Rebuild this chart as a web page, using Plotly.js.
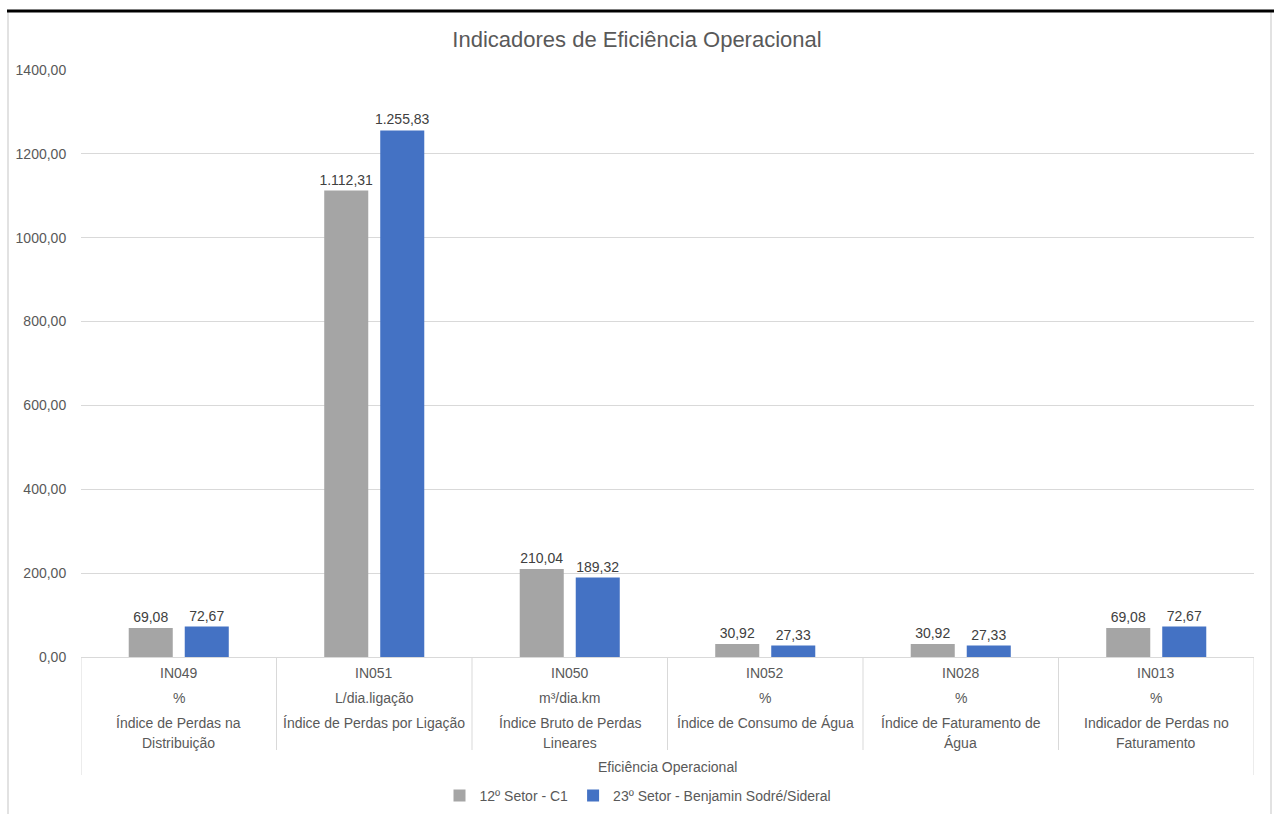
<!DOCTYPE html>
<html>
<head>
<meta charset="utf-8">
<script src="https://cdn.plot.ly/plotly-3.0.1.min.js"></script>
<style>html,body{margin:0;padding:0;background:#fff;}#chart{width:1274px;height:814px;}</style>
</head>
<body>
<div id="chart"></div>
<script>
const codes = ["IN049", "IN051", "IN050", "IN052", "IN028", "IN013"];
const units = ["%", "L/dia.ligação", "m³/dia.km", "%", "%", "%"];
const descriptions = [
  "Índice de Perdas na<br>Distribuição",
  "Índice de Perdas por Ligação",
  "Índice Bruto de Perdas<br>Lineares",
  "Índice de Consumo de Água",
  "Índice de Faturamento de<br>Água",
  "Indicador de Perdas no<br>Faturamento"
];
const groupLabel = "Eficiência Operacional";
const seriesNames = ["12º Setor - C1", "23º Setor - Benjamin Sodré/Sideral"];
const setor12 = [69.08, 1112.31, 210.04, 30.92, 30.92, 69.08];
const setor23 = [72.67, 1255.83, 189.32, 27.33, 27.33, 72.67];

const PLOT_L = 81, PLOT_R = 1254, PLOT_T = 70, PLOT_B = 657, W = 1274, H = 814;
const ph = PLOT_B - PLOT_T, pw = PLOT_R - PLOT_L;
const py = p => (PLOT_B - p) / ph;   // pixel y -> paper y
const px = p => (p - PLOT_L) / pw;   // pixel x -> paper x

const xs = codes.map((c, i) => i);
const FAM = "Liberation Sans, Arial, sans-serif";
const font = {family: FAM, color: "#595959", size: 14};

const traces = [
  {type: "bar", x: xs, y: setor12, name: seriesNames[0], marker: {color: "#a5a5a5"},
   texttemplate: "%{y:,.2f}", textposition: "outside", cliponaxis: false, constraintext: "none",
   textfont: {family: FAM, size: 14, color: "#404040"}, hoverinfo: "skip"},
  {type: "bar", x: xs, y: setor23, name: seriesNames[1], marker: {color: "#4472c4"},
   texttemplate: "%{y:,.2f}", textposition: "outside", cliponaxis: false, constraintext: "none",
   textfont: {family: FAM, size: 14, color: "#404040"}, hoverinfo: "skip"}
];

const annotations = [];
xs.forEach(i => {
  annotations.push({x: i, xref: "x", y: py(673), yref: "paper", text: codes[i], showarrow: false, yanchor: "middle", font: font});
  annotations.push({x: i, xref: "x", y: py(698), yref: "paper", text: units[i], showarrow: false, yanchor: "middle", font: font});
  descriptions[i].split("<br>").forEach((t, k) => {
    annotations.push({x: i, xref: "x", y: py(723 + 20 * k), yref: "paper", text: t, showarrow: false, yanchor: "middle", font: font});
  });
});
annotations.push({x: (xs.length - 1) / 2, xref: "x", y: py(767), yref: "paper", text: groupLabel, showarrow: false, yanchor: "middle", font: font});

const shapes = [];
for (let k = 0; k <= xs.length; k++) {
  const outer = (k === 0 || k === xs.length);
  shapes.push({type: "line", xref: "x", yref: "paper", x0: k - 0.5, x1: k - 0.5, y0: 0, y1: py(outer ? 775 : 750),
    line: {color: "#d9d9d9", width: 1}});
}
// chart frame
shapes.push({type: "line", xref: "paper", yref: "paper", x0: px(8), x1: px(8), y0: py(11), y1: py(814), line: {color: "#d9d9d9", width: 1.5}});
shapes.push({type: "line", xref: "paper", yref: "paper", x0: px(1271), x1: px(1271), y0: py(11), y1: py(814), line: {color: "#d9d9d9", width: 1.5}});
shapes.push({type: "line", xref: "paper", yref: "paper", x0: px(7), x1: px(1274), y0: py(11), y1: py(11), line: {color: "#000000", width: 3}});

const layout = {
  width: W, height: H,
  margin: {l: PLOT_L, r: W - PLOT_R, t: PLOT_T, b: H - PLOT_B, pad: 0, autoexpand: false},
  paper_bgcolor: "#ffffff", plot_bgcolor: "#ffffff",
  separators: ",.",
  font: font,
  title: {text: "Indicadores de Eficiência Operacional", font: {family: FAM, size: 22, color: "#595959"},
          x: 0.5, xref: "container", y: 1 - 39 / H, yref: "container", yanchor: "middle"},
  barmode: "group", bargap: 0.427, bargroupgap: 0.214,
  xaxis: {range: [-0.5, xs.length - 0.5], showticklabels: false, ticks: "", showgrid: false, zeroline: false,
          showline: false, fixedrange: true, automargin: false},
  yaxis: {range: [0, 1400], dtick: 200, tickformat: ".2f", showgrid: true, gridcolor: "#d9d9d9", gridwidth: 1,
          zeroline: true, zerolinecolor: "#d9d9d9", zerolinewidth: 1, showline: false, automargin: false,
          ticks: "outside", ticklen: 11, tickcolor: "rgba(0,0,0,0)", tickfont: {family: FAM, size: 14, color: "#595959"}},
  legend: {orientation: "h", x: px(638), xanchor: "center", y: py(796), yanchor: "middle",
           font: {family: FAM, size: 14, color: "#595959"}, itemwidth: 30, traceorder: "normal"},
  annotations: annotations,
  shapes: shapes
};

Plotly.newPlot("chart", traces, layout, {displayModeBar: false, staticPlot: true});
</script>
</body>
</html>
